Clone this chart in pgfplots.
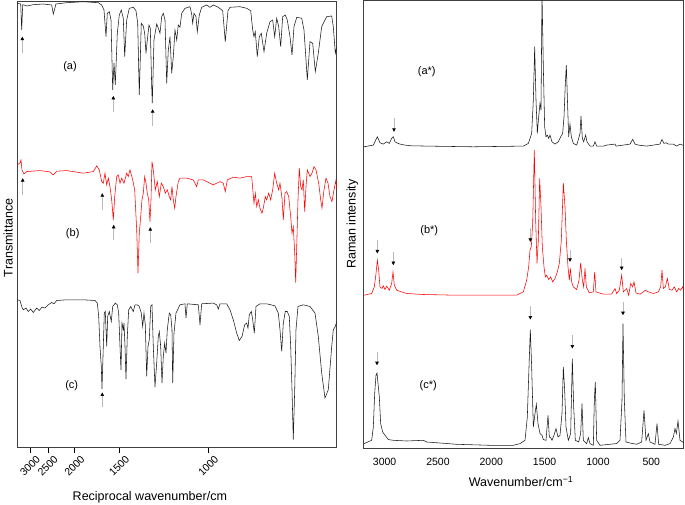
\documentclass[border=0pt]{standalone}
\usepackage{fontspec}
\setmainfont{Liberation Sans}
\usepackage{pgfplots}
\pgfplotsset{compat=1.18}
\usetikzlibrary{arrows.meta}
\definecolor{spec}{HTML}{1A1A1A}
\definecolor{redspec}{HTML}{FF0000}
\tikzset{upar/.style={gray!55, line width=0.6pt, -{Triangle[length=3.5pt,width=3.5pt,color=black]}}}
\begin{document}
\begin{tikzpicture}[x=1pt,y=1pt]
\path[use as bounding box] (0,0) rectangle (685,504);
% ---------------- Left: IR transmittance -----------------
\begin{axis}[at={(17.3pt,56.3pt)}, anchor=south west, scale only axis,
  width=319.4pt, height=446.7pt,
  xmin=2.86, xmax=14.80, ymin=0, ymax=447,
  ytick=\empty,
  xtick={3.3333,4,5,6.6667,10}, xticklabels={3000,2500,2000,1500,1000},
  xtick align=outside, major tick length=5pt, xtick pos=bottom,
  tick style={black, line width=0.5pt},
  xticklabel style={rotate=45, anchor=center, xshift=-9.2pt, yshift=-9.2pt, font=\fontsize{10.5}{12}\selectfont},
  /pgf/number format/assume math mode=true,
  axis line style={black!75, line width=0.7pt},
  xlabel={Reciprocal wavenumber/cm},
  xlabel style={at={(axis description cs:0.415,-0.110)}, anchor=center, font=\fontsize{12.5}{14}\selectfont},
  ylabel={Transmittance},
  ylabel style={at={(axis description cs:-0.029,0.47)}, anchor=center, font=\fontsize{12.5}{14}\selectfont},
  clip=true]
\addplot[spec, line width=0.55pt] coordinates {
(2.860,444.7)(2.987,444)(3.024,418)(3.062,443.3)(3.211,442)(3.458,443.3)(3.832,444)(4.146,443)(4.206,434)(4.306,444)(4.706,445.3)(5.327,446.3)(5.888,445.3)(6.015,443)(6.101,438)(6.176,411.3)(6.224,434.7)(6.299,436.3)(6.363,428)(6.426,358)(6.475,384.7)(6.523,363)(6.598,414.7)(6.673,433)(6.748,438)(6.822,429.7)(6.875,391.3)(6.949,428)(7.047,439.7)(7.196,440.7)(7.297,437.3)(7.361,424.7)(7.420,353)(7.495,424.7)(7.570,422)(7.622,414.7)(7.671,394.7)(7.720,408)(7.783,423)(7.832,419.7)(7.884,361.3)(7.906,344.7)(7.970,408)(8.071,424)(8.146,418.7)(8.194,414.7)(8.258,431.3)(8.318,434.7)(8.381,428)(8.445,364.7)(8.505,398)(8.568,411.3)(8.632,374.7)(8.692,391.3)(8.755,418)(8.819,408)(8.878,423)(8.942,420.7)(9.006,434.7)(9.129,439.7)(9.316,441.3)(9.379,434)(9.417,424.7)(9.465,434.7)(9.540,431.3)(9.589,416.3)(9.663,433)(9.753,440.7)(9.940,443)(10.063,440.7)(10.187,443)(10.374,440.7)(10.538,437.3)(10.635,406.3)(10.736,437.3)(10.811,440.7)(11.185,441.3)(11.435,439.7)(11.585,437.3)(11.660,418)(11.708,411.3)(11.757,416.3)(11.832,391.3)(11.906,411.3)(11.981,414.7)(12.082,396.3)(12.183,414.7)(12.306,426.3)(12.407,428)(12.482,411.3)(12.557,429.7)(12.632,421.3)(12.706,401.3)(12.781,431.3)(12.878,433)(12.953,428)(13.054,411.3)(13.129,393)(13.204,421.3)(13.305,430.7)(13.492,429.7)(13.577,418)(13.652,388)(13.701,368)(13.802,406.3)(13.903,404.7)(14.000,376.3)(14.112,394.7)(14.239,421.3)(14.426,431.3)(14.613,432)(14.673,421.3)(14.748,394.7)(14.800,401.3)
};
\addplot[redspec, line width=0.55pt] coordinates {
(2.860,283)(2.961,285)(2.998,288)(3.035,278)(3.110,274)(3.211,276.3)(3.708,277.3)(4.082,276)(4.206,273)(4.333,276.7)(4.706,277.3)(5.327,274.7)(5.701,276.3)(5.828,282)(5.925,278)(6.015,266.3)(6.075,264.7)(6.138,274.7)(6.202,263)(6.262,269.7)(6.325,261.3)(6.389,248)(6.449,228)(6.501,251.3)(6.576,271.3)(6.635,273)(6.699,264.7)(6.762,269.7)(6.848,264.7)(6.949,274.7)(7.009,271.3)(7.073,278)(7.174,268)(7.248,258)(7.323,218)(7.372,174.7)(7.420,214.7)(7.473,231.3)(7.521,248)(7.570,254.7)(7.622,271.3)(7.671,264.7)(7.720,254.7)(7.772,248)(7.820,226.3)(7.858,248)(7.895,286.3)(7.944,278)(8.019,258)(8.093,266.3)(8.168,251.3)(8.243,264.7)(8.318,261.3)(8.393,254.7)(8.467,258)(8.542,251.3)(8.594,248)(8.643,261.3)(8.692,248)(8.744,239.7)(8.792,251.3)(8.878,266.3)(8.942,269.7)(9.192,269.7)(9.439,268)(9.566,261.3)(9.626,268)(9.813,268)(9.940,266.3)(10.187,263)(10.437,266.3)(10.560,264.7)(10.635,256.3)(10.710,268)(10.934,270.7)(11.185,269.7)(11.435,271.3)(11.622,271.3)(11.708,244.7)(11.757,254.7)(11.809,241.3)(11.869,248)(11.932,239.7)(12.007,234.7)(12.056,239.7)(12.131,251.3)(12.183,248)(12.258,254.7)(12.332,248)(12.407,258)(12.482,274.7)(12.557,264.7)(12.632,258)(12.680,264.7)(12.755,249.7)(12.804,228)(12.867,254.7)(12.931,256.3)(13.006,251.3)(13.080,231.3)(13.129,214.7)(13.177,221.3)(13.230,194.7)(13.267,165.3)(13.305,201.3)(13.353,248)(13.402,279.7)(13.454,261.3)(13.503,258)(13.551,268)(13.604,236.3)(13.652,261.3)(13.701,278)(13.802,271.3)(13.876,274.7)(13.951,281.3)(14.026,278)(14.127,264.7)(14.202,248)(14.250,239.7)(14.325,258)(14.400,269.7)(14.475,264.7)(14.549,251.3)(14.624,246.3)(14.699,258)(14.774,268)(14.800,258)
};
\addplot[spec, line width=0.55pt] coordinates {
(2.860,148)(2.961,147.3)(3.024,141.3)(3.084,138)(3.185,139.7)(3.271,136.3)(3.361,138.7)(3.458,135.3)(3.585,139.7)(3.682,137.3)(3.783,140.7)(3.895,139.7)(4.019,143)(4.146,145.3)(4.232,144)(4.333,147.3)(4.706,148)(5.327,148)(5.764,147.3)(5.850,144.7)(5.903,131.3)(5.951,101.3)(6.000,81.3)(6.026,59)(6.075,101.3)(6.112,134.7)(6.149,136.3)(6.202,101.3)(6.239,131.3)(6.299,136.3)(6.374,126.3)(6.426,141.3)(6.523,144.7)(6.598,143)(6.650,134.7)(6.699,101.3)(6.736,78)(6.774,124.7)(6.822,118)(6.848,124.7)(6.886,101.3)(6.923,68.7)(6.972,111.3)(7.024,138)(7.099,141.3)(7.196,136.3)(7.260,143)(7.346,143)(7.420,141.3)(7.495,134.7)(7.547,121.3)(7.596,134.7)(7.645,123)(7.697,71.3)(7.746,101.3)(7.794,108)(7.847,141.3)(7.895,143)(7.944,101.3)(8.007,60.7)(8.071,84.7)(8.131,111.3)(8.168,116.3)(8.220,101.3)(8.269,64.7)(8.318,91.3)(8.370,104.7)(8.419,94.7)(8.467,118)(8.542,134.7)(8.594,133)(8.643,118)(8.669,64.7)(8.718,114.7)(8.792,134.7)(8.942,143)(9.129,144)(9.166,129.7)(9.215,144)(9.626,143)(9.690,123)(9.753,144)(10.187,144.7)(10.314,143)(10.374,138.7)(10.437,144)(10.687,144)(10.811,138)(10.934,128)(11.061,114.7)(11.158,107.3)(11.260,111.3)(11.360,123)(11.435,124.7)(11.484,119.7)(11.533,133)(11.608,136.3)(11.660,128)(11.720,114.7)(11.783,141.3)(11.932,144)(12.183,144)(12.493,142)(12.617,134.7)(12.680,118)(12.744,96.3)(12.804,124.7)(12.878,136.3)(12.953,136.3)(13.028,131.3)(13.080,101.3)(13.129,58)(13.177,8)(13.230,58)(13.278,118)(13.353,141.3)(13.551,143)(13.802,141.3)(13.989,134.7)(14.112,111.3)(14.239,74.7)(14.362,49.7)(14.486,58)(14.613,101.3)(14.673,118)(14.748,121.3)(14.800,126.3)
};
% arrows
\draw[upar] (axis cs:3.047,394.7) -- (axis cs:3.047,411.3);
\draw[upar] (axis cs:6.449,336.3) -- (axis cs:6.449,352);
\draw[upar] (axis cs:7.921,322) -- (axis cs:7.921,338.7);
\draw[upar] (axis cs:3.062,253) -- (axis cs:3.062,269.7);
\draw[upar] (axis cs:6.037,238) -- (axis cs:6.037,254.7);
\draw[upar] (axis cs:6.463,208) -- (axis cs:6.463,223);
\draw[upar] (axis cs:7.832,204.7) -- (axis cs:7.832,220.7);
\draw[upar] (axis cs:6.037,40.7) -- (axis cs:6.037,55.3);
\node[font=\fontsize{11}{13}\selectfont] at (axis cs:4.830,381) {(a)};
\node[font=\fontsize{11}{13}\selectfont] at (axis cs:4.931,213.7) {(b)};
\node[font=\fontsize{11}{13}\selectfont] at (axis cs:4.893,62) {(c)};
\end{axis}
% ---------------- Right: Raman -----------------
\begin{axis}[at={(363.3pt,55.7pt)}, anchor=south west, scale only axis,
  width=320pt, height=448.3pt,
  xmin=200, xmax=3200, x dir=reverse, ymin=0, ymax=448,
  ytick=\empty,
  xtick={500,1000,1500,2000,2500,3000},
  major tick length=0pt, xtick pos=bottom,
  xticklabel style={anchor=center, yshift=-14pt, font=\fontsize{10.5}{12}\selectfont},
  /pgf/number format/assume math mode=true,
  /pgf/number format/1000 sep={},
  axis line style={black!75, line width=0.7pt},
  xlabel={Wavenumber/cm\textsuperscript{−1}},
  xlabel style={at={(axis description cs:0.493,-0.0745)}, anchor=center, font=\fontsize{12.5}{14}\selectfont},
  ylabel={Raman intensity},
  ylabel style={at={(axis description cs:-0.034,0.5)}, anchor=center, font=\fontsize{12.5}{14}\selectfont},
  clip=true]
\addplot[spec, line width=0.55pt] coordinates {
(3193.4,301.3)(3105.9,303)(3068.4,311.3)(3043.4,305.3)(3012.2,304)(2980.9,306.3)(2955.9,304.7)(2934.0,309.7)(2918.4,311.3)(2902.8,306.3)(2887.2,305.3)(2855.9,304)(2809.0,303)(2746.5,302.3)(2605.9,302)(2168.4,301.3)(1699.6,302)(1652.8,304.7)(1621.5,314.7)(1605.9,348)(1593.4,401.3)(1580.9,348)(1568.4,314.7)(1555.9,331.3)(1543.4,344.7)(1534.1,338)(1524.7,455)(1512.2,381.3)(1499.7,321.3)(1487.2,311.3)(1474.7,313)(1462.2,309.7)(1449.7,313)(1431.0,306.3)(1402.8,304)(1371.6,306.3)(1349.7,311.3)(1331.0,314.7)(1318.4,331.3)(1305.9,364.7)(1296.6,383)(1284.1,341.3)(1274.7,311.3)(1262.2,324)(1249.7,311.3)(1231.0,304.7)(1199.7,303)(1181.0,309.7)(1168.4,314.7)(1159.1,332)(1146.6,309.7)(1134.1,306.3)(1115.3,313)(1102.8,306.3)(1074.7,302)(1043.4,302)(1027.8,306.3)(1012.2,302)(949.7,302)(918.4,303)(840.3,304)(830.9,302)(762.2,303)(699.7,304)(674.7,308.7)(652.8,304)(621.6,303)(543.4,302)(480.9,303)(418.4,304)(399.7,308.7)(381.0,304.7)(361.6,305.3)(340.3,304)(293.4,304)(262.2,302)(230.9,304)(199.7,302.7)
};
\addplot[redspec, line width=0.55pt] coordinates {
(3193.4,153)(3121.5,154.7)(3096.5,161.3)(3080.9,174.7)(3068.4,188)(3055.9,178)(3043.4,161.3)(3024.7,159.7)(3012.2,162.3)(2996.5,158.7)(2980.9,162)(2955.9,158)(2934.0,164.7)(2921.5,176.3)(2909.0,163)(2887.2,158)(2840.3,156.3)(2793.4,154.7)(2637.2,153.7)(2324.7,153)(2012.2,153)(1762.2,153)(1699.7,156.3)(1668.4,168)(1649.7,181.3)(1637.2,198)(1624.7,202)(1612.2,224.7)(1596.6,298)(1584.1,228)(1571.6,184.7)(1559.1,208)(1546.6,269.7)(1534.1,241.3)(1521.6,201.3)(1506.0,181.3)(1493.4,171.3)(1480.9,173)(1462.2,168.7)(1443.4,171.3)(1424.7,166.3)(1402.8,169.7)(1381.0,176.3)(1362.2,184.7)(1343.4,208)(1324.7,265.3)(1309.1,241.3)(1296.6,208)(1281.0,181.3)(1268.4,168)(1259.1,179.7)(1246.6,166.3)(1231.0,161.3)(1199.7,158.7)(1177.8,168)(1162.2,185.3)(1146.6,168)(1134.1,161.3)(1121.6,179.7)(1109.1,161.3)(1081.0,155.3)(1043.4,156.3)(1030.9,176.3)(1018.4,156.3)(949.7,154)(871.6,154)(840.3,159.7)(824.7,154.7)(799.7,158)(777.8,173)(762.2,156.3)(730.9,159.7)(712.2,153)(693.4,164.7)(674.7,161.3)(662.2,166.3)(643.4,155.3)(605.9,154)(574.7,156.3)(555.9,158)(527.8,156.3)(480.9,154.7)(434.0,156.3)(412.2,161.3)(399.7,178)(387.2,159.7)(368.4,161.3)(349.7,169.7)(331.0,158.7)(305.9,158)(284.1,161.3)(262.2,156.3)(243.4,159.7)(224.7,158)(205.9,161.3)(193.4,156.3)
};
\addplot[spec, line width=0.55pt] coordinates {
(3193.4,4.7)(3121.5,8)(3105.9,21.3)(3093.4,54.7)(3080.9,73)(3071.5,75.3)(3059.0,61.3)(3049.7,51.3)(3037.2,24.7)(3018.4,16.3)(2996.5,13)(2965.3,8.7)(2918.4,8)(2793.4,7.3)(2637.2,8)(2605.9,6.3)(2480.9,5.3)(2324.7,4)(2012.2,3)(1793.4,3)(1730.9,4.7)(1684.1,8)(1662.2,31.3)(1646.6,81.3)(1634.1,118.7)(1621.6,81.3)(1606.0,21.3)(1590.3,34.7)(1577.8,44)(1562.2,24.7)(1543.4,14.7)(1524.7,13)(1512.2,8.7)(1487.2,8)(1468.4,33)(1455.9,11.3)(1443.4,10.7)(1430.9,8)(1412.2,13)(1393.4,19.7)(1374.7,11.3)(1355.9,13)(1337.2,34.7)(1324.7,81.3)(1312.2,58)(1299.7,21.3)(1277.8,8)(1256.0,14.7)(1240.3,89.7)(1227.8,41.3)(1212.2,8)(1180.9,6.3)(1162.2,14.7)(1149.7,44.7)(1137.2,8)(1106.0,4.7)(1090.3,10.7)(1074.7,4.7)(1043.4,3)(1034.1,48)(1024.7,66.3)(1012.2,8)(981.0,3)(824.7,4.7)(793.4,8)(774.7,48)(765.3,124.7)(752.8,48)(737.2,6.3)(699.7,5.3)(668.4,4.7)(637.2,4)(590.3,6.3)(568.4,38)(549.7,8)(527.8,14.7)(512.2,6.3)(465.3,4)(446.6,24.7)(431.0,4)(371.6,3)(324.7,4.7)(293.4,11.3)(277.8,19.7)(265.3,14.7)(249.7,27.3)(230.9,8)(205.9,6.3)(193.4,5.3)
};
% arrows (pointing down)
\draw[upar] (axis cs:2912,329.7) -- (axis cs:2912,316.3);
\draw[upar] (axis cs:3068.4,208) -- (axis cs:3068.4,194.7);
\draw[upar] (axis cs:2918.4,196.3) -- (axis cs:2918.4,183);
\draw[upar] (axis cs:1634.1,219.7) -- (axis cs:1634.1,206.3);
\draw[upar] (axis cs:1262.2,198) -- (axis cs:1262.2,186.3);
\draw[upar] (axis cs:777.8,189.7) -- (axis cs:777.8,178);
\draw[upar] (axis cs:3071.5,96.3) -- (axis cs:3071.5,83);
\draw[upar] (axis cs:1634.1,142) -- (axis cs:1634.1,128.7);
\draw[upar] (axis cs:1240.3,113) -- (axis cs:1240.3,99.7);
\draw[upar] (axis cs:765.3,146.3) -- (axis cs:765.3,133);
\node[font=\fontsize{11}{13}\selectfont] at (axis cs:2605.6,376.3) {(a*)};
\node[font=\fontsize{11}{13}\selectfont] at (axis cs:2581.3,218) {(b*)};
\node[font=\fontsize{11}{13}\selectfont] at (axis cs:2590.6,63) {(c*)};
\end{axis}
\end{tikzpicture}
\end{document}
